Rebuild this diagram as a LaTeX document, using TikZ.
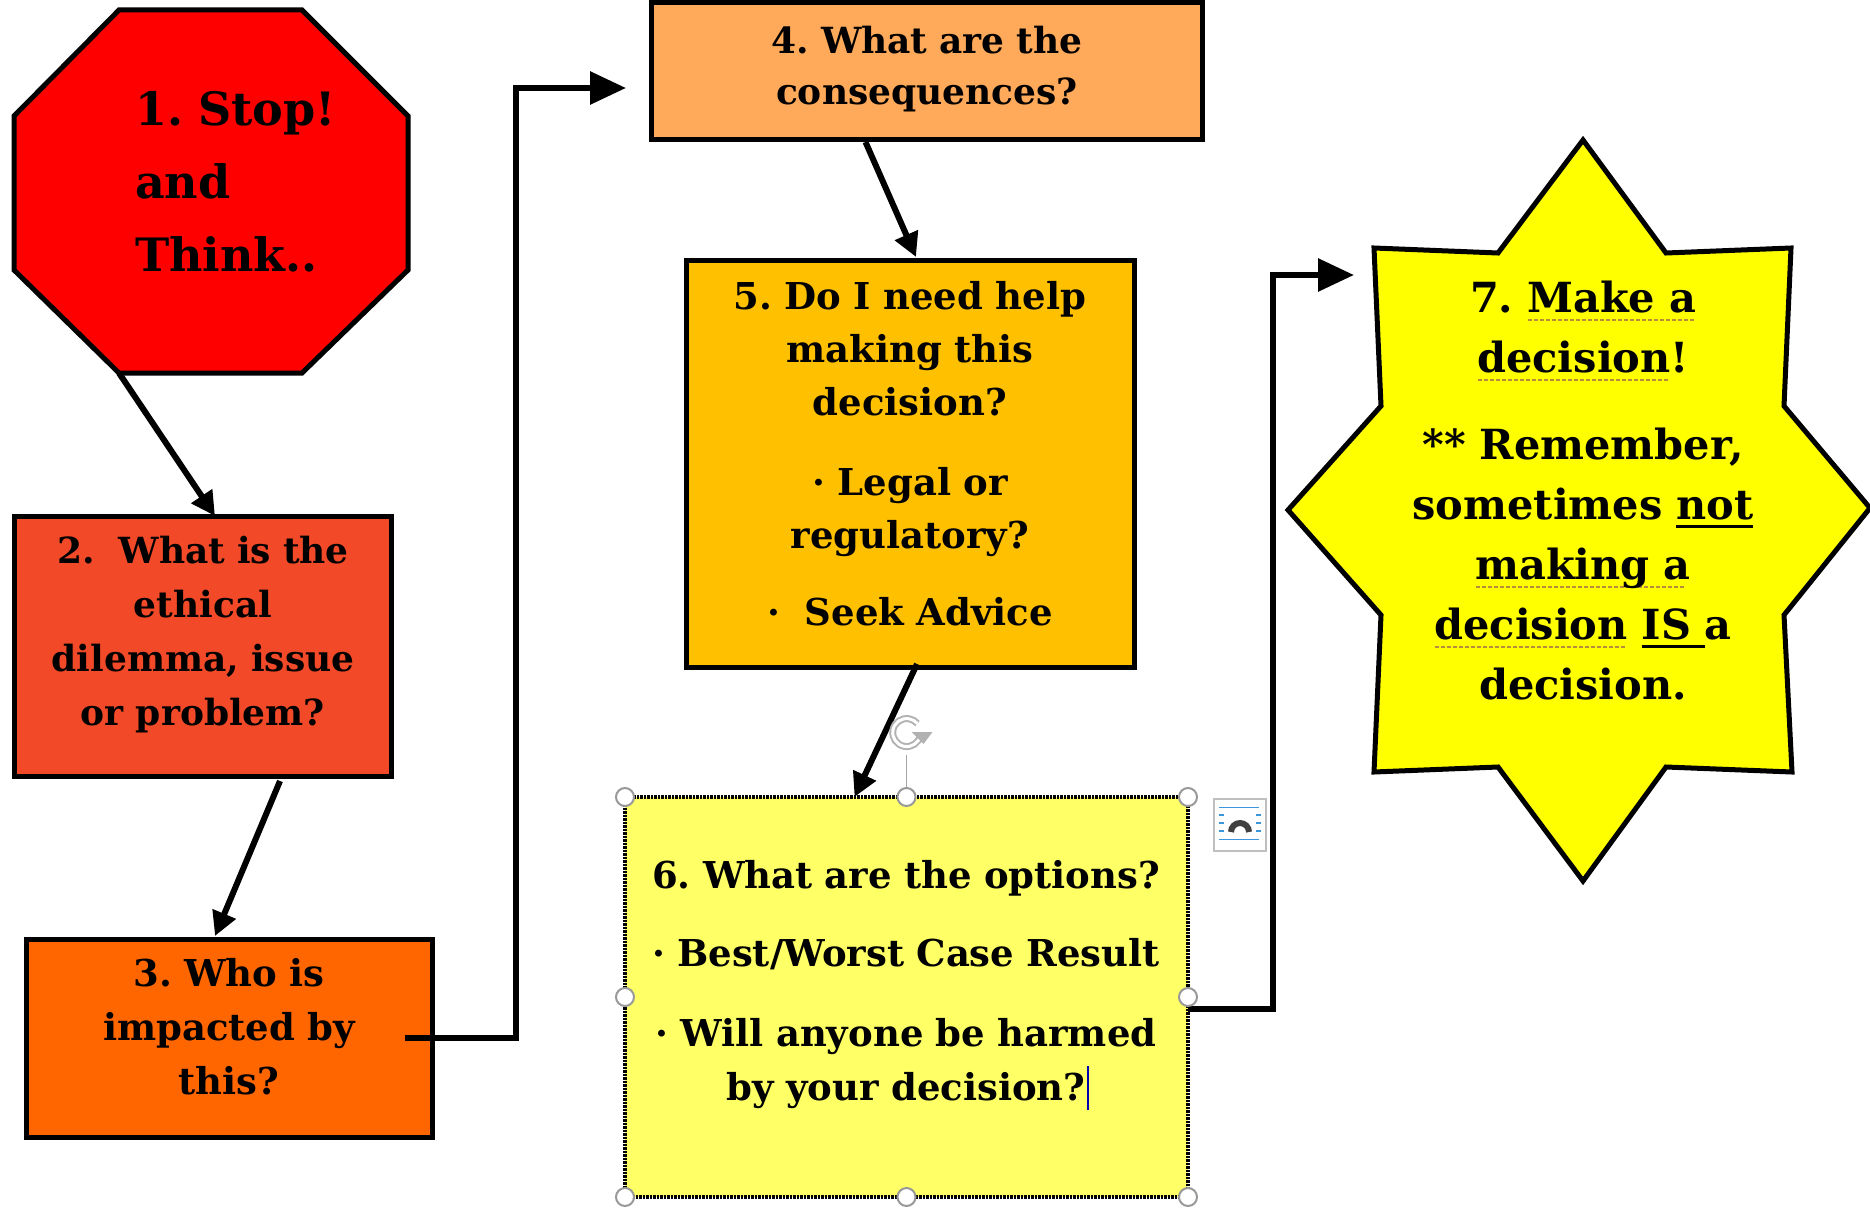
\documentclass[tikz,border=0pt]{standalone}
\usepackage{fontspec}
\setmainfont{DejaVu Serif}
\usetikzlibrary{arrows.meta,calc}
\definecolor{cRed}{RGB}{255,0,0}
\definecolor{cTwo}{RGB}{242,74,40}
\definecolor{cThree}{RGB}{255,102,0}
\definecolor{cFour}{RGB}{255,170,90}
\definecolor{cFive}{RGB}{255,192,0}
\definecolor{cSix}{RGB}{255,255,102}
\definecolor{cStar}{RGB}{255,255,0}
\definecolor{ulcol}{RGB}{185,140,60}
\definecolor{uiblue}{RGB}{60,150,220}
\newcommand\myfs[2]{\fontsize{#1}{#2}\selectfont\bfseries\frenchspacing}
\newsavebox\ubx
\newcommand\dotu[1]{\leavevmode\sbox\ubx{#1}\rlap{\color{ulcol}\raisebox{-9pt}{\leaders\hbox to 6pt{\hss\rule{4pt}{2pt}\hss}\hskip\wd\ubx}}\usebox\ubx}
\newcommand\solu[1]{\leavevmode\sbox\ubx{#1}\rlap{\raisebox{-9pt}{\rule{\wd\ubx}{3pt}}}\usebox\ubx}
\newcommand\tcursor{\rlap{\hspace{2pt}\color{blue!70!black}\rule[-10pt]{1.3pt}{44pt}}}
\begin{document}
\begin{tikzpicture}[x=1pt,y=-1pt,
  box/.style={draw=black, line width=5pt, inner sep=0, outer sep=0, anchor=north west},
  txt/.style={inner sep=0, outer sep=0, align=center, anchor=base, text=black},
  conn/.style={line width=6pt, draw=black, -{Triangle[length=24pt,width=24pt]}},
  bigconn/.style={line width=6pt, draw=black, -{Triangle[length=36pt,width=32pt]}},
  handle/.style={circle, draw=black!40, fill=white, line width=2pt, minimum size=18pt, inner sep=0}]
\useasboundingbox (0,0) rectangle (1870,1207);
% 1 octagon
\draw[line width=5pt, fill=cRed] (119,10) -- (302,10) -- (408,116) -- (408,270) -- (302,373) -- (119,373) -- (14,270) -- (14,116) -- cycle;
\coordinate (o1) at (119,373);
\node[txt, align=left, anchor=base west, text width=280pt, font=\myfs{46}{73}] (t1) at (135,125) {1. Stop!\\and\\Think..};
% boxes
\node[box, fill=cTwo, minimum width=377pt, minimum height=260pt] (b2) at (14,516) {};
\node[txt, text width=370pt, font=\myfs{36}{54}] (t2) at (203,563) {2.\ \ What is the\\ethical\\dilemma, issue\\or problem?};
\node[box, fill=cThree, minimum width=406pt, minimum height=198pt] (b3) at (26,939) {};
\node[txt, text width=400pt, font=\myfs{37}{54}] (t3) at (229,986) {3. Who is\\impacted by\\this?};
\node[box, fill=cFour, minimum width=551pt, minimum height=136pt] (b4) at (651,3) {};
\node[txt, text width=540pt, font=\myfs{36}{51}] (t4) at (927,54) {4. What are the\\consequences?};
\node[box, fill=cFive, minimum width=448pt, minimum height=407pt] (b5) at (686,260) {};
\node[txt, text width=440pt, font=\myfs{37}{53}] (t5) at (910,309) {5. Do I need help\\making this\\decision?\\[27pt]·\ Legal or\\regulatory?\\[24pt]·\ \ Seek Advice};
\node[box, fill=cSix, draw=black, line width=3.5pt, dash pattern=on 2.5pt off 1pt, minimum width=563pt, minimum height=400pt] (b6) at (625,797) {};
\node[txt, text width=560pt, font=\myfs{37}{54}] (t6) at (906,888) {6. What are the options?\\[24pt]· Best/Worst Case Result\\[26pt]· Will anyone be harmed\\by your decision?\tcursor};
% 7 star
\draw[line width=5pt, fill=cStar] (1583,140) -- (1666,253) -- (1791,248) -- (1784,406) -- (1870,508) -- (1784,615) -- (1792,772) -- (1666,767) -- (1583,881) -- (1498,767) -- (1374,772) -- (1381,615) -- (1288,510) -- (1381,406) -- (1374,248) -- (1498,253) -- cycle;
\coordinate (s7) at (1354,275);
\node[txt, text width=440pt, font=\myfs{41.5}{60}] (t7) at (1583,312) {7. \dotu{Make a}\\\dotu{decision}!\\[27pt]** Remember,\\sometimes \solu{not}\\\dotu{making a}\\\dotu{decision} \solu{IS\ }a\\decision.};
% connectors
\draw[conn] (o1) -- ($(b2.north)+(12.5,0)$);
\draw[conn] ($(b2.south)+(77.5,5)$) -- ($(b3.north)+(-14,-3)$);
\coordinate (a4) at ($(b4.west)+(-25,17)$);
\draw[bigconn] ($(b3.east)+(-27,0)$) -- ++(111,0) |- (a4);
\draw[conn] ($(b4.south)+(-61,3)$) -- ($(b5.north)+(6,-3)$);
\draw[conn] ($(b5.south)+(7,-3)$) -- ($(b6.north)+(-52,0)$);
\draw[bigconn] ($(b6.east)+(0,12)$) -- ++(85,0) |- (s7);
% selection handles
\draw[black!35, line width=1.5pt] (b6.north) -- ++(0,-42) coordinate (rh);
\coordinate (rc) at ($(rh)+(0,-22)$);
\draw[black!30, line width=7pt] ($(rc)+(14,2)$) arc[start angle=10, end angle=320, radius=14];
\draw[white, line width=3pt] ($(rc)+(14,2)$) arc[start angle=10, end angle=320, radius=14];
\fill[black!30] ($(rc)+(5,-1)$) -- ++(21,0) -- ++(-9,12) -- cycle;
\node[handle] (h1) at (b6.north west) {};
\node[handle] (h2) at (b6.north) {};
\node[handle] (h3) at (b6.north east) {};
\node[handle] (h4) at (b6.west) {};
\node[handle] (h5) at (b6.east) {};
\node[handle] (h6) at (b6.south west) {};
\node[handle] (h7) at (b6.south) {};
\node[handle] (h8) at (b6.south east) {};
% layout options icon
\node[draw=black!25, fill=white, line width=1.2pt, minimum width=52pt, minimum height=52pt, inner sep=0] (lay) at (1240,825) {};
\draw[uiblue, line width=1.6pt] ($(lay.north west)+(6,9)$) -- ++(40,0);
\draw[uiblue, line width=1.6pt] ($(lay.south west)+(6,-12)$) -- ++(40,0);
\foreach \dy in {-10,-2,6} {
  \draw[uiblue, line width=1.6pt] ($(lay.west)+(6,\dy)$) -- ++(5,0);
  \draw[uiblue, line width=1.6pt] ($(lay.east)+(-6,\dy)$) -- ++(-5,0);
}
\draw[black!75, line width=6pt] ($(lay.center)+(-9,7)$) arc[start angle=180, end angle=360, radius=9];
\end{tikzpicture}
\end{document}
